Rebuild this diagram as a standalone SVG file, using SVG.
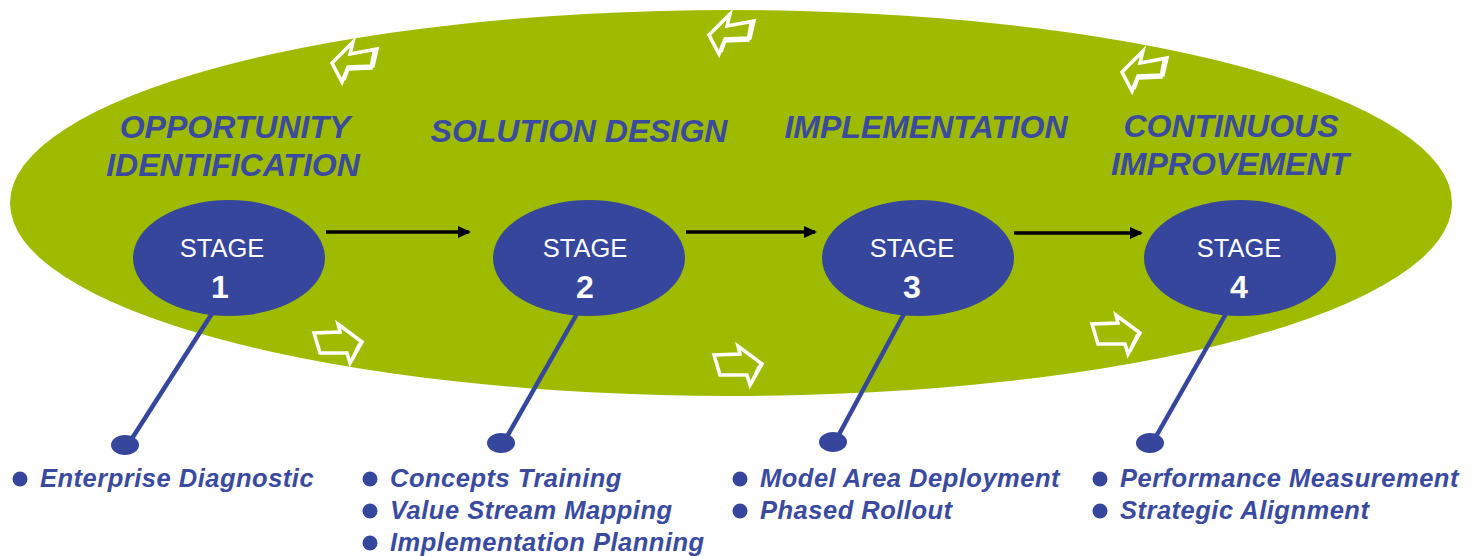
<svg xmlns="http://www.w3.org/2000/svg" width="1481" height="556" viewBox="0 0 1481 556">
  <style>
    .title { font-family: "Liberation Sans", Arial, sans-serif; font-weight: bold; font-style: italic; font-size: 32px; fill: #3a4a9e; text-anchor: middle; }
    .stage { fill: #35469c; }
    .stage-lbl { font-family: "Liberation Sans", Arial, sans-serif; font-size: 25.5px; fill: #ffffff; text-anchor: middle; }
    .stage-num { font-family: "Liberation Sans", Arial, sans-serif; font-weight: bold; font-size: 32px; fill: #ffffff; text-anchor: middle; }
    .item { font-family: "Liberation Sans", Arial, sans-serif; font-weight: bold; font-style: italic; font-size: 25.5px; letter-spacing: 0.5px; fill: #3a4a9e; }
    .dot { fill: #35469c; }
    .lead { stroke: #35469c; stroke-width: 4.5; }
    .flow { stroke: #000000; stroke-width: 3.5; fill: none; marker-end: url(#head); }
    .cycle { fill: none; stroke: #ffffff; stroke-width: 3.5; stroke-linejoin: miter; }
  </style>
  <defs>
    <marker id="head" markerWidth="13" markerHeight="12" refX="11" refY="6" orient="auto" markerUnits="userSpaceOnUse">
      <path d="M0,0 L13,6 L0,12 Z" fill="#000000"/>
    </marker>
    <!-- hollow left-pointing block arrow, origin at tip -->
    <g id="arrowL">
      <polygon class="cycle" points="0,0 21,-21 18,-9 45,-14 41,3 16,4 10,19"/>
      <polyline class="cycle" points="45,-14 42,-11 39,5 16,6 12,17"/>
    </g>
    <!-- hollow right-pointing block arrow, origin at tip -->
    <g id="arrowR">
      <polygon class="cycle" points="0,0 -24,-18 -22,-10 -48,-9 -42,11 -15,11 -12,21"/>
      <polyline class="cycle" points="0,0 -3,3 -10,18"/>
    </g>
  </defs>

  <!-- background cycle ellipse -->
  <ellipse cx="731" cy="203" rx="721" ry="193" fill="#9fbb00"/>

  <!-- cycle arrows -->
  <g id="cycle-arrows">
    <use href="#arrowL" x="332" y="63"/>
    <use href="#arrowL" x="709" y="35"/>
    <use href="#arrowL" x="1122" y="72"/>
    <use href="#arrowR" x="362" y="342"/>
    <use href="#arrowR" x="762" y="364"/>
    <use href="#arrowR" x="1140" y="333"/>
  </g>

  <!-- titles -->
  <g id="titles">
    <text class="title" x="235" y="138">OPPORTUNITY</text>
    <text class="title" x="233" y="176">IDENTIFICATION</text>
    <text class="title" x="579" y="142">SOLUTION DESIGN</text>
    <text class="title" x="926" y="138">IMPLEMENTATION</text>
    <text class="title" x="1231" y="137">CONTINUOUS</text>
    <text class="title" x="1230" y="175">IMPROVEMENT</text>
  </g>

  <!-- connectors -->
  <g id="connectors">
    <line class="flow" x1="326" y1="232" x2="469" y2="232"/>
    <line class="flow" x1="686" y1="232" x2="815" y2="232"/>
    <line class="flow" x1="1014" y1="233" x2="1141" y2="233"/>
    <line class="lead" x1="213" y1="312" x2="131" y2="440"/>
    <line class="lead" x1="578" y1="312" x2="505" y2="440"/>
    <line class="lead" x1="905" y1="312" x2="836" y2="440"/>
    <line class="lead" x1="1227" y1="312" x2="1154" y2="440"/>
  </g>

  <!-- stages -->
  <g id="stage1">
    <ellipse class="stage" cx="229" cy="258" rx="96" ry="58"/>
    <text class="stage-lbl" x="222" y="257">STAGE</text>
    <text class="stage-num" x="220" y="298">1</text>
    <ellipse class="dot" cx="125" cy="445" rx="14" ry="10"/>
  </g>
  <g id="stage2">
    <ellipse class="stage" cx="589" cy="258" rx="96" ry="58"/>
    <text class="stage-lbl" x="585" y="257">STAGE</text>
    <text class="stage-num" x="585" y="298">2</text>
    <ellipse class="dot" cx="501" cy="443" rx="14" ry="10"/>
  </g>
  <g id="stage3">
    <ellipse class="stage" cx="918" cy="258" rx="96" ry="58"/>
    <text class="stage-lbl" x="912" y="257">STAGE</text>
    <text class="stage-num" x="912" y="298">3</text>
    <ellipse class="dot" cx="833" cy="442" rx="14" ry="10"/>
  </g>
  <g id="stage4">
    <ellipse class="stage" cx="1240" cy="258" rx="96" ry="58"/>
    <text class="stage-lbl" x="1239" y="257">STAGE</text>
    <text class="stage-num" x="1239" y="298">4</text>
    <ellipse class="dot" cx="1150" cy="443" rx="14" ry="10"/>
  </g>

  <!-- activity lists -->
  <g id="list1">
    <circle class="dot" cx="20" cy="479" r="7.5"/>
    <text class="item" x="40" y="487">Enterprise Diagnostic</text>
  </g>
  <g id="list2">
    <circle class="dot" cx="370" cy="479" r="7.5"/>
    <text class="item" x="390" y="487">Concepts Training</text>
    <circle class="dot" cx="370" cy="511" r="7.5"/>
    <text class="item" x="390" y="519">Value Stream Mapping</text>
    <circle class="dot" cx="370" cy="543" r="7.5"/>
    <text class="item" x="390" y="551">Implementation Planning</text>
  </g>
  <g id="list3">
    <circle class="dot" cx="740" cy="479" r="7.5"/>
    <text class="item" x="760" y="487">Model Area Deployment</text>
    <circle class="dot" cx="740" cy="511" r="7.5"/>
    <text class="item" x="760" y="519">Phased Rollout</text>
  </g>
  <g id="list4">
    <circle class="dot" cx="1100" cy="479" r="7.5"/>
    <text class="item" x="1120" y="487">Performance Measurement</text>
    <circle class="dot" cx="1100" cy="511" r="7.5"/>
    <text class="item" x="1120" y="519">Strategic Alignment</text>
  </g>
</svg>
